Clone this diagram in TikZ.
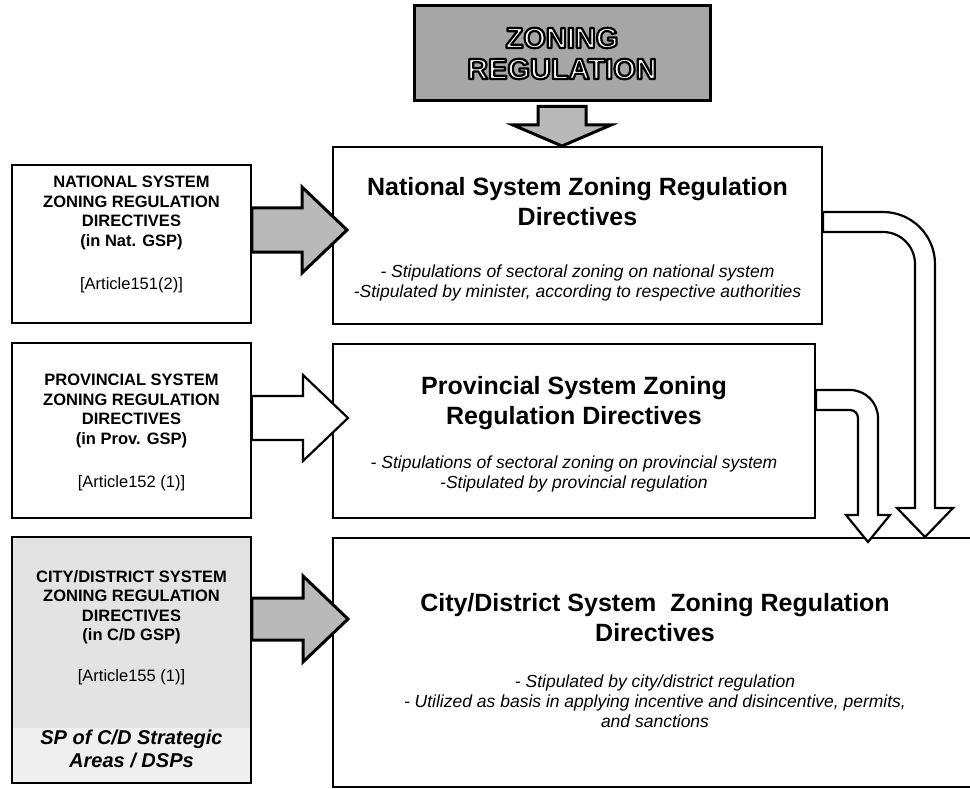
\documentclass[tikz,border=0pt]{standalone}
\usepackage{fontspec}
\setmainfont{Liberation Sans}
\usetikzlibrary{calc}

\definecolor{headgray}{HTML}{A6A6A6}
\definecolor{arrowgray}{HTML}{B9B9B9}
\definecolor{citygray}{HTML}{E3E3E3}
\definecolor{bandgray}{HTML}{EFEFEF}

% white letters with a black outline (fill + stroke text rendering mode)
\newcommand\outlined[1]{{\color{white}%
  \special{pdf:literal direct 0 G 2.2 w 1 j 2 Tr}#1\special{pdf:literal direct 0 Tr}}}

% horizontal block arrow: style, tail, tip, shaft half-width, head half-width, head length
\newcommand\hblock[6]{%
  \draw[#1] let \p1=#2, \p2=#3 in
    (\x1,\y2+#4) -- (\x2-#6,\y2+#4) -- (\x2-#6,\y2+#5) -- (\p2)
    -- (\x2-#6,\y2-#5) -- (\x2-#6,\y2-#4) -- (\x1,\y2-#4) -- cycle;}
% downward block arrow: style, tail, tip, shaft half-width, head half-width, head length
\newcommand\vblock[6]{%
  \draw[#1] let \p1=#2, \p2=#3 in
    (\x2-#4,\y1) -- (\x2-#4,\y2+#6) -- (\x2-#5,\y2+#6) -- (\p2)
    -- (\x2+#5,\y2+#6) -- (\x2+#4,\y2+#6) -- (\x2+#4,\y1) -- cycle;}

\tikzset{
  mainbox/.style={draw=black, line width=2.2pt, fill=white, inner sep=0pt},
  sidebox/.style={draw=black, line width=1.5pt, fill=white, inner sep=0pt},
  headbox/.style={draw=black, line width=3pt, fill=headgray, inner sep=0pt},
  headtext/.style={font=\fontsize{29}{31}\selectfont\bfseries, align=center, inner sep=0pt},
  titletext/.style={font=\fontsize{25}{30}\selectfont\bfseries, align=center, inner sep=0pt},
  notetext/.style={font=\fontsize{17.5}{20}\selectfont\itshape, align=center, inner sep=0pt},
  sidetext/.style={font=\fontsize{16.5}{19.5}\selectfont\bfseries, align=center, inner sep=0pt},
  reftext/.style={font=\fontsize{16.5}{19.5}\selectfont, inner sep=0pt},
  sptext/.style={font=\fontsize{20}{23}\selectfont\bfseries\itshape, align=center, inner sep=0pt},
  greyarrow/.style={draw=black, line width=3pt, fill=arrowgray, line join=miter},
  whitearrow/.style={draw=black, line width=2.2pt, fill=white, line join=miter},
}

\begin{document}
\begin{tikzpicture}[x=1pt, y=-1pt]
\useasboundingbox (0,0) rectangle (970,789);

% ---- heading
\node[headbox, minimum width=296pt, minimum height=95pt] (head) at (562,53.5) {};
\node[headtext] (headlbl) at (562,53.5) {\outlined{ZONING}\\\outlined{REGULATION}};

% ---- main directive boxes
\node[mainbox, minimum width=489pt, minimum height=177pt] (nat) at (577.5,235.5) {};
\node[mainbox, minimum width=482pt, minimum height=174pt] (prov) at (574,431) {};
\node[mainbox, minimum width=652pt, minimum height=249pt] (city) at (659,662.5) {};

\node[titletext] (natT) at (577.5,202) {National System Zoning Regulation\\Directives};
\node[notetext] (natN) at (577.5,283) {- Stipulations of sectoral zoning on national system\\-Stipulated by minister, according to respective authorities};

\node[titletext] (provT) at (574,403) {Provincial System Zoning\\Regulation Directives};
\node[notetext] (provN) at (574,474) {- Stipulations of sectoral zoning on provincial system\\-Stipulated by provincial regulation};

\node[titletext] (cityT) at (655,618) {City/District System\ \ Zoning Regulation\\Directives};
\node[notetext] (cityN) at (655,701) {- Stipulated by city/district regulation\\- Utilized as basis in applying incentive and disincentive, permits,\\and sanctions};

% ---- plan references on the left
\node[sidebox, minimum width=239pt, minimum height=158pt] (natL) at (131.5,244) {};
\node[sidebox, minimum width=239pt, minimum height=175pt] (provL) at (131.5,430.5) {};
\node[sidebox, fill=citygray, minimum width=239pt, minimum height=246pt] (cityL) at (131.5,660) {};
\node[fill=bandgray, inner sep=0pt, minimum width=237pt, minimum height=54pt] (cityB) at (131.5,755) {};

\node[sidetext] (natLT) at (131.5,213) {NATIONAL SYSTEM\\ZONING REGULATION\\DIRECTIVES\\(in Nat. GSP)};
\node[reftext] (natLR) at (131.5,285) {[Article151(2)]};

\node[sidetext] (provLT) at (131.5,411) {PROVINCIAL SYSTEM\\ZONING REGULATION\\DIRECTIVES\\(in Prov. GSP)};
\node[reftext] (provLR) at (131.5,483) {[Article152 (1)]};

\node[sidetext] (cityLT) at (131.5,607) {CITY/DISTRICT SYSTEM\\ZONING REGULATION\\DIRECTIVES\\(in C/D GSP)};
\node[reftext] (cityLR) at (131.5,677) {[Article155 (1)]};
\node[sptext] (cityLS) at (131.5,748.5) {SP of C/D Strategic\\Areas / DSPs};

% ---- arrow ends
\coordinate (headOut) at ($(head.south)+(0,4)$);
\coordinate (natTop) at (562,146);
\coordinate (natTip) at (347,230);
\coordinate (provTip) at (348,418);
\coordinate (cityTip) at (348,619);

% ---- block arrows
\vblock{greyarrow}{(headOut)}{(natTop)}{24pt}{49pt}{21pt}
\hblock{greyarrow}{(natL.east)}{(natTip)}{22pt}{43pt}{45pt}
\hblock{whitearrow}{(provL.east)}{(provTip)}{22pt}{43pt}{45pt}
\hblock{greyarrow}{(cityL.east)}{(cityTip)}{21pt}{43pt}{45pt}

% ---- bent arrows down to the city/district level
\draw[whitearrow] (nat.east |- 0,212) -- (883,212)
  arc[start angle=90, end angle=0, radius=52pt] -- (935,508) -- (953,508)
  -- (925,537) -- (897,508) -- (915,508) -- (915,264)
  arc[start angle=0, end angle=90, radius=32pt] -- (nat.east |- 0,232) -- cycle;
\draw[whitearrow] (prov.east |- 0,390) -- (850,390)
  arc[start angle=90, end angle=0, radius=28pt] -- (878,515) -- (890,515)
  -- (868,542) -- (846,515) -- (858,515) -- (858,418)
  arc[start angle=0, end angle=90, radius=8pt] -- (prov.east |- 0,410) -- cycle;
\end{tikzpicture}
\end{document}
